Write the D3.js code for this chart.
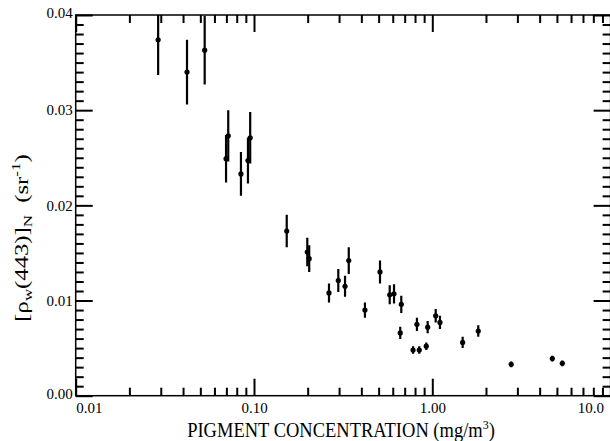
<!DOCTYPE html>
<html><head><meta charset="utf-8">
<script src="https://cdn.jsdelivr.net/npm/d3@7"></script>
<style>
body{margin:0;background:#fff;}
</style></head>
<body><svg id="chart" width="610" height="441" font-family="Liberation Serif"></svg>
<script>
// Pigment concentration (mg/m^3)
const conc = [0.0290, 0.0421, 0.0529, 0.0697, 0.0717, 0.0845, 0.0925, 0.0952, 0.1526, 0.199, 0.204, 0.2634, 0.297, 0.324, 0.340, 0.419, 0.509, 0.577, 0.610, 0.670, 0.661, 0.78, 0.82, 0.845, 0.925, 0.942, 1.045, 1.104, 1.48, 1.81, 2.77, 4.71, 5.36];
// normalized water reflectance at 443 nm (sr^-1)
const rho = [0.0374, 0.0340, 0.0363, 0.0249, 0.0273, 0.0233, 0.0247, 0.0271, 0.0173, 0.0151, 0.0144, 0.0108, 0.0121, 0.0115, 0.0142, 0.0090, 0.0130, 0.0106, 0.0107, 0.0096, 0.0066, 0.0048, 0.0075, 0.0048, 0.0052, 0.0072, 0.0084, 0.0077, 0.0056, 0.0068, 0.0033, 0.0039, 0.0034];
// error bar half-length
const err = [0.0037, 0.0034, 0.0036, 0.0025, 0.0027, 0.0023, 0.0024, 0.0027, 0.0017, 0.0015, 0.0014, 0.0010, 0.0012, 0.0011, 0.0014, 0.0008, 0.0012, 0.0010, 0.0010, 0.0009, 0.00065, 0.0004, 0.0007, 0.0004, 0.0004, 0.00065, 0.0007, 0.0007, 0.0006, 0.0006, 0.0003, 0.0003, 0.0003];

const xMajor = [0.01, 0.1, 1, 10];
const xMajorLabels = ["0.01", "0.10", "1.00", "10.0"];
const yMajor = [0, 0.01, 0.02, 0.03, 0.04];
const yMajorLabels = ["0.00", "0.01", "0.02", "0.03", "0.04"];

const FONT = "Liberation Serif";
const L = 75.7, R = 610.6, T = 15, B = 395.7;
const svg = d3.select("#chart");
const x = d3.scaleLog().domain([0.01, 10]).range([L, R]);
const y = d3.scaleLinear().domain([0, 0.04]).range([B, T]);

const xMinor = [];
[0.01, 0.1, 1].forEach(d => { for (let k = 2; k <= 9; k++) xMinor.push(d * k); });
const yMinor = d3.range(0, 41).map(i => i / 1000).filter(v => Math.round(v * 1000) % 10 !== 0);

const MAJ = 17, MIN = 8;
function styleAxis(g){
  g.attr("font-family", FONT).attr("font-size", 15);
  g.select(".domain").remove();
  g.selectAll(".tick line").attr("stroke", "#000").attr("stroke-width", 2);
  g.selectAll(".tick text").attr("fill", "#000").attr("font-size", 15).attr("font-family", FONT);
}
// bottom
const gB = svg.append("g").attr("transform", `translate(0,${B})`);
gB.call(d3.axisBottom(x).tickValues(xMinor).tickSizeInner(-MIN).tickSizeOuter(0).tickFormat("")).call(styleAxis);
const gB2 = svg.append("g").attr("transform", `translate(0,${B})`);
gB2.call(d3.axisBottom(x).tickValues(xMajor).tickSizeInner(-MAJ).tickSizeOuter(0).tickPadding(7)
  .tickFormat((d, i) => xMajorLabels[i])).call(styleAxis);
gB2.selectAll(".tick text").attr("text-anchor", (d, i) => i === 0 ? "start" : (i === xMajor.length - 1 ? "end" : "middle"))
  .attr("dx", (d, i) => i === xMajor.length - 1 ? -7 : 0);
// top
svg.append("g").attr("transform", `translate(0,${T})`)
  .call(d3.axisTop(x).tickValues(xMinor).tickSizeInner(-MIN).tickSizeOuter(0).tickFormat("")).call(styleAxis);
svg.append("g").attr("transform", `translate(0,${T})`)
  .call(d3.axisTop(x).tickValues(xMajor).tickSizeInner(-MAJ).tickSizeOuter(0).tickFormat("")).call(styleAxis);
// left
svg.append("g").attr("transform", `translate(${L},0)`)
  .call(d3.axisLeft(y).tickValues(yMinor).tickSizeInner(-MIN).tickSizeOuter(0).tickFormat("")).call(styleAxis);
const gL = svg.append("g").attr("transform", `translate(${L},0)`);
gL.call(d3.axisLeft(y).tickValues(yMajor).tickSizeInner(-MAJ).tickSizeOuter(0).tickPadding(3)
  .tickFormat((d, i) => yMajorLabels[i])).call(styleAxis);
gL.selectAll(".tick text").attr("dy", (d) => d === 0.04 ? "0.15em" : (d === 0 ? "0.2em" : "0.32em"));
// right
svg.append("g").attr("transform", `translate(${R},0)`)
  .call(d3.axisRight(y).tickValues(yMinor).tickSizeInner(-MIN).tickSizeOuter(0).tickFormat("")).call(styleAxis);
svg.append("g").attr("transform", `translate(${R},0)`)
  .call(d3.axisRight(y).tickValues(yMajor).tickSizeInner(-MAJ).tickSizeOuter(0).tickFormat("")).call(styleAxis);

// frame
svg.append("rect").attr("x", L).attr("y", T).attr("width", R - L).attr("height", B - T)
  .attr("fill", "none").attr("stroke", "#000").attr("stroke-width", 1.5);

// clip
svg.append("clipPath").attr("id", "clip").append("rect")
  .attr("x", L).attr("y", T).attr("width", R - L).attr("height", B - T);

const data = conc.map((c, i) => ({c, v: rho[i], e: err[i]}));
const gD = svg.append("g").attr("clip-path", "url(#clip)");
gD.selectAll("line.err").data(data).join("line").attr("class", "err")
  .attr("x1", d => x(d.c)).attr("x2", d => x(d.c))
  .attr("y1", d => y(d.v + d.e)).attr("y2", d => y(d.v - d.e))
  .attr("stroke", "#000").attr("stroke-width", 2.2);
gD.selectAll("circle").data(data).join("circle")
  .attr("cx", d => x(d.c)).attr("cy", d => y(d.v)).attr("r", 2.6).attr("fill", "#000");

// axis titles
const xt = svg.append("text").attr("transform", "translate(341,436.5) scale(1,1.1)").attr("text-anchor", "middle")
  .attr("font-family", FONT).attr("font-size", 18.5).attr("fill", "#000");
xt.append("tspan").text("PIGMENT CONCENTRATION (mg/m");
xt.append("tspan").attr("font-size", 12).attr("dy", -7).text("3");
xt.append("tspan").attr("dy", 7).text(")");

const yt = svg.append("text").attr("transform", "translate(28,238) rotate(-90) scale(1.3,1)")
  .attr("text-anchor", "middle").attr("font-family", FONT).attr("font-size", 19).attr("fill", "#000");
yt.append("tspan").text("[ρ");
yt.append("tspan").attr("font-size", 13).attr("dy", 4).text("w");
yt.append("tspan").attr("dy", -4).text("(443)]");
yt.append("tspan").attr("font-size", 13).attr("dy", 4).text("N");
yt.append("tspan").attr("dy", -4).text("\u00a0\u00a0(sr");
yt.append("tspan").attr("font-size", 13).attr("dy", -8).text("-1");
yt.append("tspan").attr("dy", 8).text(")");
</script></body></html>
